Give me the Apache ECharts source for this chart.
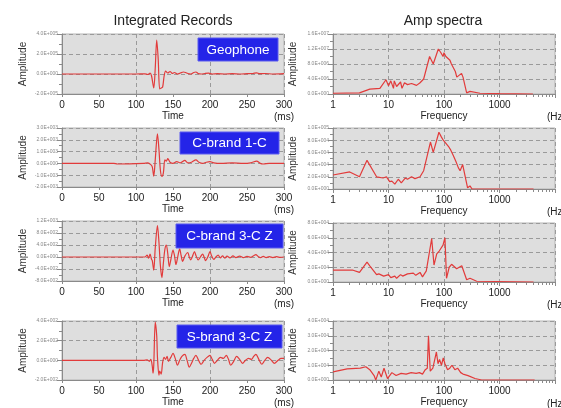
<!DOCTYPE html>
<html>
<head>
<meta charset="utf-8">
<script src="https://cdn.jsdelivr.net/npm/echarts@6/dist/echarts.min.js"></script>
<style>
html, body { margin: 0; padding: 0; background: #fff; }
#chart { width: 561px; height: 408px; }
</style>
</head>
<body>
<div id="chart"></div>
<script>
// ---- data ----
const traceNames = ['Geophone', 'C-brand 1-C', 'C-brand 3-C Z', 'S-brand 3-C Z'];

// integrated records (time in ms)
const geoTime = [0, 100, 112, 116, 119, 121, 124, 126, 128, 130, 132, 134, 136, 138, 140, 143, 146, 149, 152, 156, 160, 164, 167, 170, 174, 178, 181, 184, 188, 193, 198, 203, 210, 220, 230, 240, 250, 258, 263, 267, 275, 285, 300];
const geoAmp = [0, 0, 2000, -5000, 8000, -20000, -140000, 60000, 340000, 150000, -150000, -140000, -130000, -20000, 30000, 10000, 25000, 5000, 15000, 0, 10000, 20000, 15000, 5000, 0, 15000, 20000, 5000, 0, 5000, 8000, 0, 3000, 0, 3000, 0, 3000, 5000, 12000, 3000, 5000, 0, 3000];

const c1Time = [0, 70, 75, 110, 116, 120, 122, 124, 126, 129, 131, 133, 135, 137, 139, 141, 143, 146, 150, 155, 160, 166, 170, 175, 181, 185, 190, 195, 200, 205, 215, 230, 245, 255, 263, 268, 272, 280, 300];
const c1Amp = [0, 0, -50, 0, 50, -100, -300, -1070, 300, 2500, 1200, -600, -1100, -800, 300, 200, 400, 100, 0, 150, 50, 250, 50, 100, 300, 100, 0, 100, 150, 50, 0, 50, 0, 50, 200, 0, -50, 0, 0];

const c3Time = [0, 112, 115, 117, 119, 121, 122, 124, 126, 129, 131, 133, 135, 137, 139, 141, 143, 145, 147, 150, 152, 154, 156, 159, 161, 163, 166, 170, 172, 174, 176, 179, 181, 184, 187, 190, 192, 194, 197, 200, 202, 205, 208, 211, 214, 217, 220, 223, 227, 231, 235, 240, 245, 250, 255, 259, 262, 265, 268, 272, 276, 280, 285, 290, 295, 300];
const c3Amp = [0, 0, 60, -40, 100, -80, -120, -440, 300, 1050, 500, -300, -690, -200, 250, 400, 100, -320, -100, 230, 50, -250, -50, 270, 50, -150, 30, 150, 0, -100, 0, 180, 50, -100, 0, 100, 0, -120, 0, 180, 50, -80, 0, 60, -30, 40, -40, 30, -30, 40, -20, 30, -20, 20, -10, 40, 80, 20, -20, 20, -20, 10, -20, 10, -15, 0];

const s3Time = [0, 110, 115, 118, 120, 122, 123, 124, 126, 128, 129, 131, 132, 134, 136, 138, 140, 142, 144, 147, 150, 153, 156, 159, 162, 166, 169, 172, 175, 178, 181, 184, 188, 192, 196, 200, 203, 206, 210, 214, 218, 222, 225, 228, 232, 236, 240, 244, 248, 252, 256, 259, 262, 266, 270, 274, 278, 283, 287, 292, 296, 300];
const s3Amp = [0, 0, 5, -10, 10, -60, -130, -50, 390, 250, 30, -150, -110, -140, -20, 30, 10, 40, -10, 30, 70, 20, -50, 0, 40, 60, 0, -70, -30, 20, 50, 10, -40, 0, 30, 50, 10, -30, 0, 30, 20, 50, 10, -50, -10, 40, 10, -30, 0, 20, 10, 40, 60, 10, -40, 0, 30, 0, -30, 0, 20, 20];

// amplitude spectra (frequency in Hz)
const geoFreq = [1, 3, 4.6, 7, 9, 10, 11, 12.3, 12.7, 14, 16.5, 17.5, 19.4, 22, 26, 32, 37, 43, 55, 64, 67, 79, 88, 96, 100, 108, 128, 136, 160, 170, 207, 220, 256, 294, 445, 1000, 4000];
const geoSpec = [200000, 300000, 1300000, 1500000, 3800000, 2200000, 3500000, 1500000, 3500000, 2000000, 3200000, 1500000, 3000000, 2500000, 2800000, 2300000, 3000000, 4000000, 10000000, 8000000, 8000000, 12000000, 11000000, 10000000, 11000000, 10000000, 9000000, 8000000, 6000000, 4500000, 5500000, 4500000, 300000, 700000, 200000, 100000, 0];

const c1Freq = [1, 2, 3, 4.1, 6.1, 8, 9.2, 10.5, 11.5, 13, 15, 17, 20, 22, 26, 30, 37, 43, 57, 64, 68, 81, 90, 97, 103, 120, 130, 147, 164, 181, 195, 217, 230, 266, 294, 320, 4100];
const c1Spec = [23000, 28000, 20000, 47000, 20000, 18000, 20000, 12000, 13000, 8000, 16000, 10000, 18000, 16000, 20000, 17000, 20000, 30000, 77000, 60000, 60000, 93000, 85000, 80000, 83000, 70000, 65000, 55000, 45000, 35000, 30000, 40000, 40000, 2000, 5000, 0, 0];

const c3Freq = [1, 2.3, 3, 4.1, 4.6, 6.1, 6.7, 8.2, 10, 11, 13, 14, 16.5, 18, 22, 28, 31, 37, 41, 48, 60, 66, 74, 82, 88, 96, 104, 111, 124, 137, 169, 209, 225, 256, 294, 388, 4100];
const c3Spec = [16000, 16000, 13000, 27000, 22000, 10000, 11000, 8000, 10000, 6000, 8000, 5000, 10000, 8000, 11000, 12000, 9000, 13000, 7000, 15000, 59000, 23000, 38000, 42000, 40000, 50000, 60000, 5000, 20000, 24000, 18000, 22000, 20000, 3000, 5000, 1000, 0];

const s3Freq = [1, 1.8, 3.1, 3.9, 4.6, 5.5, 5.9, 6.7, 7.4, 8.3, 9.6, 11.5, 13.7, 16.9, 20.8, 25.6, 31.5, 36, 41, 46, 50, 52.5, 56.5, 63, 73, 78, 83, 90, 97, 104, 116, 127, 139, 157, 176, 200, 220, 271, 361, 478, 4300];
const s3Spec = [5500, 7500, 8000, 9000, 7000, 3000, 0, 6000, 2000, 8000, 1000, 5000, 3000, 4500, 4000, 5000, 4500, 5000, 4000, 7000, 8000, 30000, 6000, 8000, 19000, 11000, 14000, 10000, 15000, 11000, 7000, 8000, 10000, 7000, 8000, 5000, 4000, 3000, 1000, 0, 0];

// y axes: [min, max, interval]
const recordRanges = [[-200000, 400000, 200000], [-2000, 3000, 1000], [-800, 1200, 400], [-200, 400, 200]];
const spectraRanges = [[0, 16000000, 4000000], [0, 100000, 20000], [0, 80000, 20000], [0, 40000, 10000]];

const records = [[geoTime, geoAmp], [c1Time, c1Amp], [c3Time, c3Amp], [s3Time, s3Amp]];
const spectra = [[geoFreq, geoSpec], [c1Freq, c1Spec], [c3Freq, c3Spec], [s3Freq, s3Spec]];

// ---- layout ----
const FONT = '"Liberation Sans", Arial, sans-serif';
const leftRows = [[34, 60], [128, 59], [221, 60], [321, 59]];
const rightRows = [[34, 60], [128, 61], [223, 59], [321, 60]];
const boxes = [[198, 38, 80, 23], [180, 132, 99, 22], [176, 224, 107, 24], [177, 325, 105, 23]];

function sci(v) {
    if (v === 0) return '0.0E+000';
    let s = v < 0 ? '-' : '';
    let a = Math.abs(v);
    let e = Math.floor(Math.log10(a) + 1e-9);
    let m = a / Math.pow(10, e);
    return s + m.toFixed(1) + 'E' + (e < 0 ? '-' : '+') + String(Math.abs(e)).padStart(3, '0');
}

function zip(xs, ys) {
    return xs.map((x, i) => [x, ys[i]]);
}

let chart = echarts.init(document.getElementById('chart'));

let grids = [], xAxes = [], yAxes = [], series = [], graphics = [];

const lineColor = '#e23b3b';
const splitStyle = { show: true, lineStyle: { color: '#9a9a9a', type: [4, 3], width: 1 } };
const tickLabel = { fontSize: 10, color: '#222', fontFamily: FONT };

function yAxisFor(gridIndex, r) {
    return {
        type: 'value',
        gridIndex: gridIndex,
        min: r[0], max: r[1], interval: r[2],
        name: 'Amplitude',
        nameLocation: 'middle',
        nameGap: 34,
        nameTextStyle: { fontSize: 10, color: '#333', fontFamily: FONT },
        axisLine: { show: true, lineStyle: { color: '#8a8a8a' } },
        axisTick: { show: true, length: 5, lineStyle: { color: '#8a8a8a' } },
        minorTick: { show: true, splitNumber: 2, length: 3, lineStyle: { color: '#8a8a8a' } },
        axisLabel: { fontSize: 5, color: '#888', margin: 4, fontFamily: FONT, formatter: sci },
        splitLine: splitStyle
    };
}

for (let i = 0; i < 4; i++) {
    let lr = leftRows[i], rr = rightRows[i];
    grids.push({ left: 62, top: lr[0], width: 222, height: lr[1], show: true, backgroundColor: '#dedede', borderColor: '#b4b4b4', borderWidth: 1 });
    grids.push({ left: 333, top: rr[0], width: 222, height: rr[1], show: true, backgroundColor: '#dedede', borderColor: '#b4b4b4', borderWidth: 1 });

    let gl = 2 * i, gr = 2 * i + 1;
    let xl = xAxes.length;
    // time axis with labels
    xAxes.push({
        type: 'value', gridIndex: gl, min: 0, max: 300, interval: 50,
        name: 'Time', nameLocation: 'middle', nameGap: 17,
        nameTextStyle: { fontSize: 10, color: '#222', fontFamily: FONT },
        axisLine: { show: true, onZero: false, lineStyle: { color: '#8a8a8a' } },
        axisTick: { show: true, length: 3, lineStyle: { color: '#8a8a8a' } },
        axisLabel: Object.assign({ margin: 6 }, tickLabel),
        splitLine: { show: false }
    });
    // time gridlines every 100 ms
    xAxes.push({
        type: 'value', gridIndex: gl, min: 0, max: 300, interval: 100, position: 'bottom',
        axisLine: { show: false }, axisTick: { show: false }, axisLabel: { show: false },
        splitLine: splitStyle
    });
    // frequency log axis
    let xr = xAxes.length;
    xAxes.push({
        type: 'log', logBase: 10, gridIndex: gr, min: 1, max: 10000,
        name: 'Frequency', nameLocation: 'middle', nameGap: 17,
        nameTextStyle: { fontSize: 10, color: '#222', fontFamily: FONT },
        axisLine: { show: true, onZero: false, lineStyle: { color: '#8a8a8a' } },
        axisTick: { show: true, length: 4, lineStyle: { color: '#8a8a8a' } },
        minorTick: { show: true, splitNumber: 9, length: 3, lineStyle: { color: '#8a8a8a' } },
        axisLabel: Object.assign({ margin: 6, formatter: v => (v >= 10000 ? '' : String(v)) }, tickLabel),
        splitLine: splitStyle
    });

    let yl = yAxes.length;
    yAxes.push(yAxisFor(gl, recordRanges[i]));
    let yr = yAxes.length;
    let ya = yAxisFor(gr, spectraRanges[i]);
    ya.nameGap = 35;
    yAxes.push(ya);

    series.push({
        type: 'line', xAxisIndex: xl, yAxisIndex: yl,
        data: zip(records[i][0], records[i][1]),
        showSymbol: false, smooth: 0.3, clip: true,
        lineStyle: { color: lineColor, width: 1.2 }
    });
    series.push({
        type: 'line', xAxisIndex: xr, yAxisIndex: yr,
        data: zip(spectra[i][0], spectra[i][1]),
        showSymbol: false, clip: true,
        lineStyle: { color: lineColor, width: 1.2 }
    });

    // trace label box
    let b = boxes[i];
    graphics.push({
        type: 'rect', shape: { x: b[0], y: b[1], width: b[2], height: b[3] },
        style: { fill: '#2424e8', stroke: '#5a5af0', lineWidth: 1 }, z: 100
    });
    graphics.push({
        type: 'text', x: b[0] + b[2] / 2, y: b[1] + b[3] / 2 + 0.5, z: 101,
        style: { text: traceNames[i], fill: '#fff', font: '13.5px ' + FONT, align: 'center', verticalAlign: 'middle', textAlign: 'center', textVerticalAlign: 'middle' }
    });

    // units
    let lb = lr[0] + lr[1], rb = rr[0] + rr[1];
    graphics.push({
        type: 'text', x: 284, y: lb + 23,
        style: { text: '(ms)', fill: '#222', font: '10px ' + FONT, align: 'center', verticalAlign: 'middle', textAlign: 'center', textVerticalAlign: 'middle' }
    });
    graphics.push({
        type: 'text', x: 547, y: rb + 23,
        style: { text: '(Hz)', fill: '#222', font: '10px ' + FONT, align: 'left', verticalAlign: 'middle', textAlign: 'left', textVerticalAlign: 'middle' }
    });
}

graphics.push({
    type: 'text', x: 173, y: 21,
    style: { text: 'Integrated Records', fill: '#222', font: '14px ' + FONT, align: 'center', verticalAlign: 'middle', textAlign: 'center', textVerticalAlign: 'middle' }
});
graphics.push({
    type: 'text', x: 443, y: 21,
    style: { text: 'Amp spectra', fill: '#222', font: '14px ' + FONT, align: 'center', verticalAlign: 'middle', textAlign: 'center', textVerticalAlign: 'middle' }
});

chart.setOption({
    animation: false,
    backgroundColor: '#fff',
    grid: grids,
    xAxis: xAxes,
    yAxis: yAxes,
    series: series,
    graphic: graphics
});
</script>
</body>
</html>
